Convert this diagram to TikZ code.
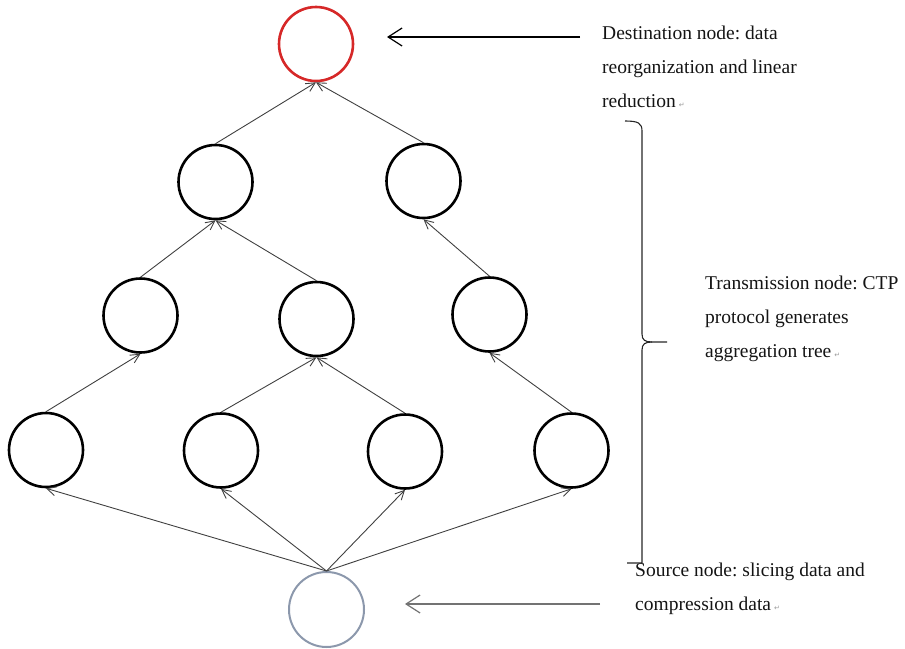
\documentclass[tikz,border=0pt]{standalone}
\usepackage{fontspec}
\setmainfont{Liberation Serif}
\newfontfamily\symfont{DejaVu Sans}
\usetikzlibrary{arrows.meta}
\frenchspacing
\newcommand\parmk{\hspace{3pt}{\symfont\fontsize{7}{7}\selectfont\textcolor{black!40}{↵}}}
\definecolor{destred}{RGB}{214,40,40}
\definecolor{srcblue}{RGB}{140,152,172}
\begin{document}
\begin{tikzpicture}[x=1pt,y=-1pt,
  tn/.style={circle,draw=black,line width=2.6pt,minimum size=74pt,inner sep=0pt},
  conn/.style={draw=black!75,line width=0.9pt,-{Straight Barb[length=9pt,width=9pt]}},
  lbl/.style={anchor=base west,inner sep=0pt,font=\frenchspacing\fontsize{19.5}{34}\selectfont,text=black!92},
  pointer/.style={line width=1.2pt,-{Straight Barb[length=14pt,width=18pt]}},
  bracepath/.style={draw=black!85,line width=1.1pt}]
\useasboundingbox (0,0) rectangle (905,648);

% nodes
\node[tn,draw=destred] (dst) at (316,44) {};
\node[tn] (a1) at (215.5,182) {};
\node[tn] (a2) at (423.5,181) {};
\node[tn] (b1) at (140.5,315.5) {};
\node[tn] (b2) at (316.5,319) {};
\node[tn] (b3) at (489.5,314.5) {};
\node[tn] (c1) at (46,450) {};
\node[tn] (c2) at (221,450.5) {};
\node[tn] (c3) at (405,451.5) {};
\node[tn] (c4) at (571.5,450.5) {};
\node[tn,draw=srcblue,line width=2pt,minimum size=75pt] (src) at (326.5,609.5) {};

% connectors
\foreach \t in {c1,c2,c3,c4} \draw[conn] (src.north) -- (\t.south);
\draw[conn] (c1.north) -- (b1.south);
\draw[conn] (c2.north) -- (b2.south);
\draw[conn] (c3.north) -- (b2.south);
\draw[conn] (c4.north) -- (b3.south);
\draw[conn] (b1.north) -- (a1.south);
\draw[conn] (b2.north) -- (a1.south);
\draw[conn] (b3.north) -- (a2.south);
\draw[conn] (a1.north) -- (dst.south);
\draw[conn] (a2.north) -- (dst.south);

% labels
\node[lbl] (d1) at (602,39) {Destination node: data};
\node[lbl] (d2) at (602,73) {reorganization and linear};
\node[lbl] (d3) at (602,107) {reduction\parmk};
\node[lbl] (t1) at (705,289) {Transmission node: CTP};
\node[lbl] (t2) at (705,323) {protocol generates};
\node[lbl] (t3) at (705,357) {aggregation tree\parmk};
\node[lbl] (s1) at (635,576) {Source node: slicing data and};
\node[lbl] (s2) at (635,610) {compression data\parmk};

% pointers
\coordinate (dstFrom) at (580,37);
\coordinate (dstTo) at (387,37);
\draw[pointer,draw=black] (dstFrom) -- (dstTo);
\coordinate (srcFrom) at (600,604);
\coordinate (srcTo) at (405,604);
\draw[pointer,draw=black!55] (srcFrom) -- (srcTo);

% brace
\draw[bracepath] (625,121) .. controls (638,121) and (642,123) .. (642,131)
  -- (642,334) .. controls (642,340) and (645,342) .. (652,342) -- (667,342);
\draw[bracepath] (652,342) .. controls (645,342) and (642,344) .. (642,350)
  -- (642,563) -- (627,563);
\end{tikzpicture}
\end{document}
